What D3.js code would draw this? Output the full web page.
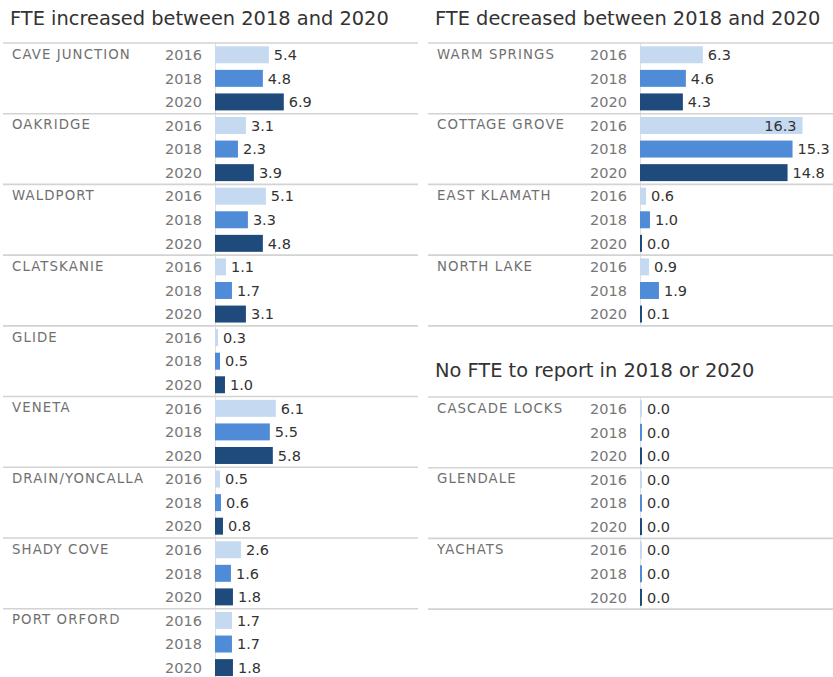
<!DOCTYPE html>
<html>
<head>
<meta charset="utf-8">
<script src="https://cdn.jsdelivr.net/npm/d3@7"></script>
<style>
  body { margin: 0; background: #fff; }
  svg { display: block; font-family: "DejaVu Sans", "Open Sans", sans-serif; }
</style>
</head>
<body>
<svg id="chart" width="833" height="677"></svg>
<script>
// ---- data ----
const years = ["2016", "2018", "2020"];
const yearColors = ["#c5d9f1", "#4f8bd6", "#1f4a7c"];

const increasedPlaces = ["CAVE JUNCTION", "OAKRIDGE", "WALDPORT", "CLATSKANIE", "GLIDE", "VENETA", "DRAIN/YONCALLA", "SHADY COVE", "PORT ORFORD"];
const increased2016 = [5.4, 3.1, 5.1, 1.1, 0.3, 6.1, 0.5, 2.6, 1.7];
const increased2018 = [4.8, 2.3, 3.3, 1.7, 0.5, 5.5, 0.6, 1.6, 1.7];
const increased2020 = [6.9, 3.9, 4.8, 3.1, 1.0, 5.8, 0.8, 1.8, 1.8];

const decreasedPlaces = ["WARM SPRINGS", "COTTAGE GROVE", "EAST KLAMATH", "NORTH LAKE"];
const decreased2016 = [6.3, 16.3, 0.6, 0.9];
const decreased2018 = [4.6, 15.3, 1.0, 1.9];
const decreased2020 = [4.3, 14.8, 0.0, 0.1];

const noFtePlaces = ["CASCADE LOCKS", "GLENDALE", "YACHATS"];
const noFte2016 = [0.0, 0.0, 0.0];
const noFte2018 = [0.0, 0.0, 0.0];
const noFte2020 = [0.0, 0.0, 0.0];

const titles = ["FTE increased between 2018 and 2020", "FTE decreased between 2018 and 2020", "No FTE to report in 2018 or 2020"];

// ---- drawing ----
const svg = d3.select("#chart");
const rowStep = 23.57;

function section(cfg) {
  const { places, series, title, x0, x1, titleY, top, zeroX, nameX, yearX } = cfg;
  const g = svg.append("g");
  g.append("text").attr("x", nameX - 2).attr("y", titleY)
    .attr("font-size", 19.4).attr("fill", "#333").text(title);

  const rows = [];
  places.forEach((p, i) => years.forEach((yr, j) => rows.push({ place: p, year: yr, yi: j, gi: i, value: series[j][i] })));
  const bottom = top + rows.length * rowStep;
  const y = d3.scaleBand().domain(rows.map(r => r.place + "|" + r.year))
    .range([top, bottom]).paddingInner(0.28).paddingOuter(0.14);
  const x = d3.scaleLinear().domain([0, 1]).range([zeroX, zeroX + 9.97]);

  // zero axis
  g.append("line").attr("x1", zeroX + 0.5).attr("x2", zeroX + 0.5).attr("y1", top).attr("y2", bottom)
    .attr("stroke", "#e0e0e0").attr("stroke-width", 1);

  // separators
  const groupH = rowStep * 3;
  const seps = d3.range(places.length + 1).map(i => top + i * groupH);
  g.selectAll("line.sep").data(seps).join("line").attr("class", "sep")
    .attr("x1", x0).attr("x2", x1).attr("y1", d => d).attr("y2", d => d)
    .attr("stroke", "#d3d3d3").attr("stroke-width", 1.6);

  // group names
  g.selectAll("text.place").data(places).join("text").attr("class", "place")
    .attr("x", nameX).attr("y", (d, i) => y(d + "|2016") + y.bandwidth() / 2)
    .attr("dy", "0.3em").attr("font-size", 13.3).attr("letter-spacing", 1.1).attr("fill", "#707070")
    .text(d => d);

  // year labels
  g.selectAll("text.year").data(rows).join("text").attr("class", "year")
    .attr("x", yearX).attr("y", d => y(d.place + "|" + d.year) + y.bandwidth() / 2)
    .attr("dy", "0.36em").attr("text-anchor", "end").attr("font-size", 14.5).attr("fill", "#777")
    .text(d => d.year);

  // bars
  g.selectAll("rect.bar").data(rows).join("rect").attr("class", "bar")
    .attr("x", zeroX).attr("y", d => y(d.place + "|" + d.year))
    .attr("width", d => Math.max(x(d.value) - zeroX, 2)).attr("height", y.bandwidth())
    .attr("fill", d => yearColors[d.yi]);

  // value labels
  g.selectAll("text.val").data(rows).join("text").attr("class", "val")
    .attr("y", d => y(d.place + "|" + d.year) + y.bandwidth() / 2)
    .attr("dy", "0.36em").attr("font-size", 14.5).attr("fill", "#333")
    .text(d => d.value.toFixed(1))
    .each(function (d) {
      const w = this.getComputedTextLength();
      const end = Math.max(x(d.value), zeroX + 2);
      const sel = d3.select(this);
      if (end + 5 + w > x1 + 1) {
        sel.attr("x", end - 6).attr("text-anchor", "end");
      } else {
        sel.attr("x", end + 5).attr("text-anchor", "start");
      }
    });
}

section({ places: increasedPlaces, series: [increased2016, increased2018, increased2020], title: titles[0],
  x0: 3, x1: 418, titleY: 25, top: 43, zeroX: 215, nameX: 12, yearX: 202 });
section({ places: decreasedPlaces, series: [decreased2016, decreased2018, decreased2020], title: titles[1],
  x0: 428, x1: 833, titleY: 25, top: 43, zeroX: 640, nameX: 437, yearX: 627 });
section({ places: noFtePlaces, series: [noFte2016, noFte2018, noFte2020], title: titles[2],
  x0: 428, x1: 833, titleY: 377, top: 397, zeroX: 640, nameX: 437, yearX: 627 });
</script>
</body>
</html>
